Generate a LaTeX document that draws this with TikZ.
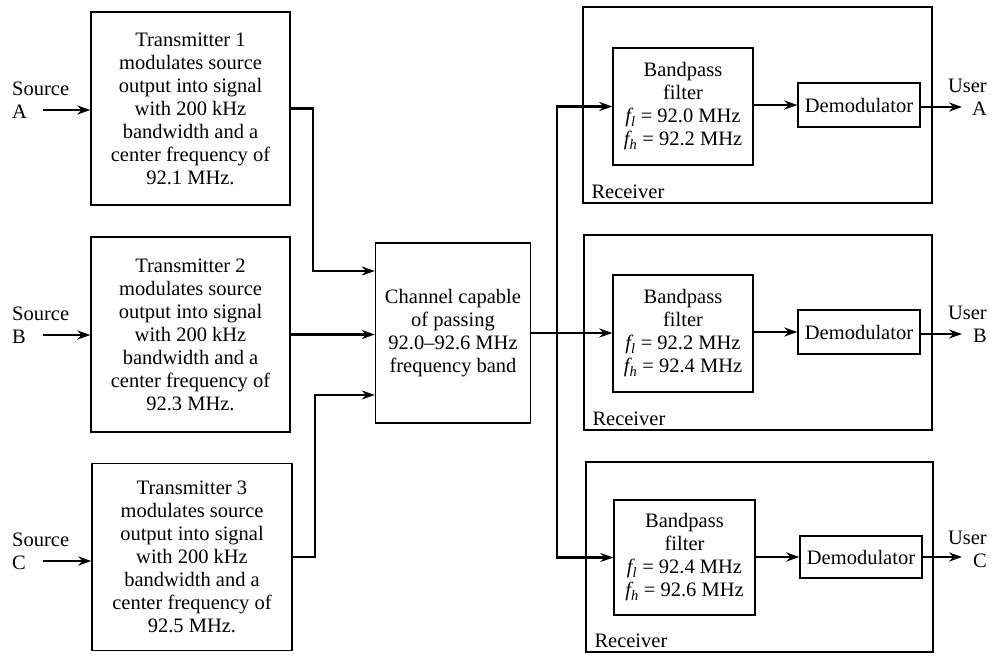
\documentclass[tikz,border=0pt]{standalone}
\usepackage{fontspec}
\setmainfont{Liberation Serif}
\usetikzlibrary{arrows.meta,calc}
\begin{document}
\begin{tikzpicture}[x=1pt,y=-1pt,
  box/.style={draw,line width=1.4pt,align=center,inner sep=0pt,font=\fontsize{20.5}{23}\selectfont},
  lbl/.style={inner sep=0pt,font=\fontsize{20.5}{23}\selectfont},
  arr/.style={line width=2.2pt,-{Stealth[length=13pt,width=9pt]}},
  conn/.style={line width=2.2pt}]
\useasboundingbox (0,0) rectangle (992,656);
% transmitters
\node[box,minimum width=199pt,minimum height=193pt] (T1) at (190.5,108.5) {Transmitter 1\\modulates source\\output into signal\\with 200 kHz\\bandwidth and a\\center frequency of\\92.1 MHz.};
\node[box,minimum width=199pt,minimum height=195pt] (T2) at (190.5,334.5) {Transmitter 2\\modulates source\\output into signal\\with 200 kHz\\bandwidth and a\\center frequency of\\92.3 MHz.};
\node[box,minimum width=200pt,minimum height=187pt] (T3) at (192,557) {Transmitter 3\\modulates source\\output into signal\\with 200 kHz\\bandwidth and a\\center frequency of\\92.5 MHz.};
% sources
\node[lbl,anchor=west,align=left] (SA) at (12,100) {Source\\A};
\node[lbl,anchor=west,align=left] (SB) at (12,325) {Source\\B};
\node[lbl,anchor=west,align=left] (SC) at (12,551) {Source\\C};
\coordinate (sa) at (43,110);
\coordinate (sb) at (43,335);
\coordinate (sc) at (43,561);
\draw[arr] (sa) -- (sa -| T1.west);
\draw[arr] (sb) -- (sb -| T2.west);
\draw[arr] (sc) -- (sc -| T3.west);
% channel
\node[box,minimum width=155pt,minimum height=180pt] (Ch) at (453,333) {Channel capable\\of passing\\92.0--92.6 MHz\\frequency band};
\coordinate (j1) at (313,271);
\coordinate (j3) at (315,395);
\draw[arr] (T1.east) -| (j1) -- (j1 -| Ch.west);
\draw[arr] (T2.east) -- (T2.east -| Ch.west);
\draw[arr] (T3.east) -| (j3) -- (j3 -| Ch.west);
% receivers
\node[box,minimum width=349pt,minimum height=196pt] (RA) at (757.5,105) {};
\node[box,minimum width=348pt,minimum height=195pt] (RB) at (758,332.5) {};
\node[box,minimum width=347pt,minimum height=190pt] (RC) at (759.5,557) {};
\node[lbl,anchor=south west] (RAl) at ($(RA.south west)+(9,-5)$) {Receiver};
\node[lbl,anchor=south west] (RBl) at ($(RB.south west)+(9,-5)$) {Receiver};
\node[lbl,anchor=south west] (RCl) at ($(RC.south west)+(9,-5)$) {Receiver};
\node[box,minimum width=140pt,minimum height=117pt] (BA) at (683,106.5) {Bandpass\\filter\\{\itshape f}\textsubscript{\itshape l} = 92.0 MHz\\{\itshape f}\textsubscript{\itshape h} = 92.2 MHz};
\node[box,minimum width=140pt,minimum height=117pt] (BB) at (683,333.5) {Bandpass\\filter\\{\itshape f}\textsubscript{\itshape l} = 92.2 MHz\\{\itshape f}\textsubscript{\itshape h} = 92.4 MHz};
\node[box,minimum width=141pt,minimum height=115pt] (BC) at (684.5,557.5) {Bandpass\\filter\\{\itshape f}\textsubscript{\itshape l} = 92.4 MHz\\{\itshape f}\textsubscript{\itshape h} = 92.6 MHz};
\node[box,minimum width=122pt,minimum height=44pt] (DA) at (859,105) {Demodulator};
\node[box,minimum width=122pt,minimum height=44pt] (DB) at (859,332) {Demodulator};
\node[box,minimum width=122pt,minimum height=42pt] (DC) at (861,557) {Demodulator};
\draw[arr] (BA.east |- DA.west) -- (DA.west);
\draw[arr] (BB.east |- DB.west) -- (DB.west);
\draw[arr] (BC.east |- DC.west) -- (DC.west);
% users
\node[lbl,anchor=east,align=right] (UA) at (987,97) {User\\A};
\node[lbl,anchor=east,align=right] (UB) at (987,324) {User\\B};
\node[lbl,anchor=east,align=right] (UC) at (987,549) {User\\C};
\coordinate (ua) at (962,107);
\coordinate (ub) at (962,334);
\coordinate (uc) at (962,557);
\draw[arr] (DA.east |- ua) -- (ua);
\draw[arr] (DB.east |- ub) -- (ub);
\draw[arr] (DC.east |- uc) -- (uc);
% channel to receivers
\coordinate (bx) at (557,333);
\draw[arr] (Ch.east) -- (Ch.east -| BB.west);
\draw[arr] (bx) |- (BA.west);
\draw[arr] (bx) |- (BC.west);
\end{tikzpicture}
\end{document}
